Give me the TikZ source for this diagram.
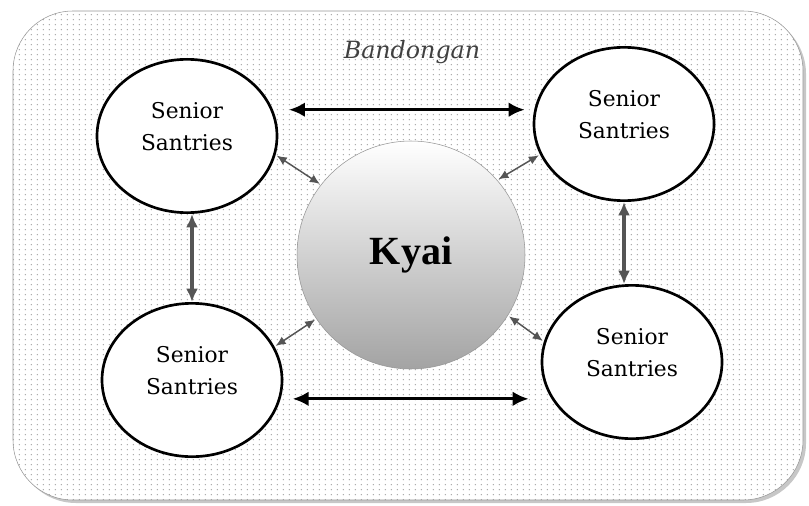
\documentclass[tikz,border=0pt]{standalone}
\usepackage{fontspec}
\setmainfont{DejaVu Serif}
\newfontfamily\kyaifont{Liberation Serif}
\usepackage{tikz}
\usetikzlibrary{arrows.meta,shapes.geometric,patterns}
\definecolor{GrisFlecha}{RGB}{85,85,85}
\definecolor{GrisBorde}{RGB}{150,150,150}
\definecolor{GrisPunto}{RGB}{165,165,165}
\pgfdeclarepatternformonly{puntos}{\pgfqpoint{-1pt}{-1pt}}{\pgfqpoint{4pt}{4pt}}{\pgfqpoint{4.5pt}{3.75pt}}{\pgfpathcircle{\pgfqpoint{1pt}{1pt}}{0.55pt}\pgfusepath{fill}}

\begin{document}
\begin{tikzpicture}[>=Latex,x=0.75pt,y=-0.75pt,
  santri/.style={draw,ellipse,line width=2pt,fill=white,minimum width=135pt,minimum height=115pt,
    align=center,text depth=15pt,font=\fontsize{16.3}{24}\selectfont},
  horiz/.style={<->,line width=2.3pt,>={Latex[length=12pt,width=11pt]}},
  vert/.style={<->,GrisFlecha,line width=2.6pt,>={Latex[length=10pt,width=9pt]}},
  diag/.style={<->,GrisFlecha,line width=1.1pt,>={Latex[length=7.5pt,width=6.5pt]},shorten <=1pt,shorten >=1pt}]
  \useasboundingbox (0,0) rectangle (809,506);
  % fondo
  \fill[black!22,rounded corners=45pt] (16,14) rectangle (806,503);
  \fill[white,rounded corners=45pt] (13,11) rectangle (803,500);
  \draw[GrisBorde,pattern=puntos,pattern color=GrisPunto,rounded corners=45pt] (13,11) rectangle (803,500);
  \node[font=\itshape\fontsize{17.8}{20}\selectfont,text=black!75] (titulo) at (412,52) {Bandongan};
  % nodos
  \node[circle,minimum size=171pt,draw=GrisBorde,top color=white,bottom color=black!36,
    font=\kyaifont\bfseries\fontsize{30}{30}\selectfont] (kyai) at (411,255) {Kyai};
  \node[santri] (tl) at (187,136) {Senior\\Santries};
  \node[santri] (tr) at (624,124) {Senior\\Santries};
  \node[santri] (bl) at (192,380) {Senior\\Santries};
  \node[santri] (br) at (632,362) {Senior\\Santries};
  % flechas
  \draw[horiz,shorten <=12pt,shorten >=6pt] (tl.17) -- (tl.17 -| tr.west);
  \draw[horiz,shorten <=9pt,shorten >=9pt] (bl.-12) -- (bl.-12 -| br.west);
  \draw[vert] (tl.south -| bl.north) -- (bl.north);
  \draw[vert] (tr.south) -- (tr.south |- br.north);
  \draw[diag] (tl.-12) -- (kyai.142);
  \draw[diag] (tr.200) -- (kyai.41);
  \draw[diag] (bl.22) -- (kyai.214);
  \draw[diag] (br.167) -- (kyai.-32);
\end{tikzpicture}
\end{document}
